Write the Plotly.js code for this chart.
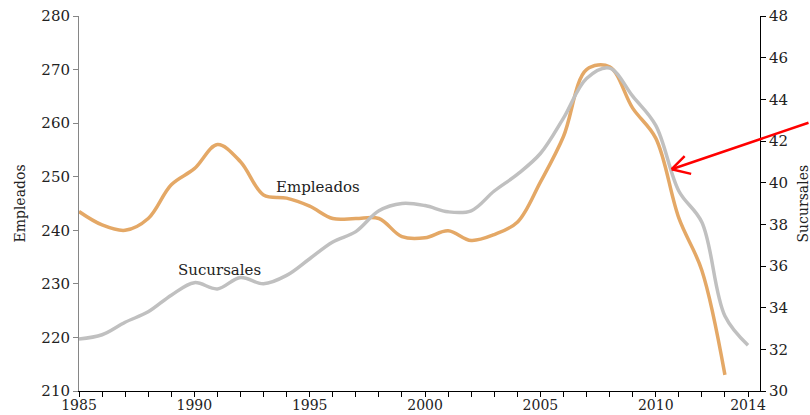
<!DOCTYPE html>
<html>
<head>
<meta charset="utf-8">
<script src="https://cdn.plot.ly/plotly-3.0.1.min.js"></script>
<style>html,body{margin:0;padding:0;background:#fff;}#chart{width:810px;height:415px;}</style>
</head>
<body>
<div id="chart"></div>
<script>
const yearsEmp = [1985,1986,1987,1988,1989,1990,1991,1992,1993,1994,1995,1996,1997,1998,1999,2000,2001,2002,2003,2004,2005,2006,2007,2008,2009,2010,2011,2012,2013];
const empleados = [243.5,241,240,242.2,248.5,251.5,256,252.8,246.6,246,244.5,242.2,242.2,242.2,238.8,238.6,239.9,238.1,239.2,241.5,249,257.5,270,270.5,262.8,257.2,242.3,232.5,213];
const yearsSuc = [1985,1986,1987,1988,1989,1990,1991,1992,1993,1994,1995,1996,1997,1998,1999,2000,2001,2002,2003,2004,2005,2006,2007,2008,2009,2010,2011,2012,2013,2014];
const sucursales = [32.5,32.7,33.3,33.8,34.6,35.2,34.9,35.45,35.15,35.55,36.35,37.15,37.65,38.65,39.0,38.9,38.6,38.65,39.6,40.4,41.4,43.1,45.0,45.5,44.15,42.75,39.6,38.1,33.6,32.2];
const xTickVals = yearsSuc;
const xTickText = yearsSuc.map(y => [1985,1990,1995,2000,2005,2010,2014].includes(y) ? String(y) : '');
const leftTicks = [210,220,230,240,250,260,270,280];
const rightTicks = [30,32,34,36,38,40,42,44,46,48];

const FONT = 'DejaVu Serif, serif';
const traces = [
  {x: yearsSuc, y: sucursales, yaxis: 'y2', type: 'scatter', mode: 'lines',
   line: {color: '#C0C0C0', width: 3.5, shape: 'spline', smoothing: 1}, hoverinfo: 'skip'},
  {x: yearsEmp, y: empleados, yaxis: 'y', type: 'scatter', mode: 'lines',
   line: {color: '#E4A866', width: 3.5, shape: 'spline', smoothing: 1}, hoverinfo: 'skip'}
];
const arrowCommon = {x: 2010.69, y: 251.4, xref: 'x', yref: 'y', text: '', showarrow: true,
  arrowhead: 0, arrowwidth: 2.5, arrowcolor: '#FF0000', standoff: 0, startstandoff: 0};
const layout = {
  width: 810, height: 415,
  margin: {l: 79, r: 50, t: 16, b: 24, pad: 0},
  paper_bgcolor: '#fff', plot_bgcolor: '#fff',
  showlegend: false,
  font: {family: FONT, size: 15, color: '#222'},
  xaxis: {range: [1985, 2014.52], tickvals: xTickVals, ticktext: xTickText, ticks: 'outside',
    ticklen: 5, tickcolor: '#000', showline: true, linecolor: '#000', linewidth: 1,
    showgrid: false, zeroline: false, ticklabelstandoff: -4,
    tickfont: {family: FONT, size: 14, color: '#222'}},
  yaxis: {range: [210, 280], tickvals: leftTicks, ticks: 'outside', ticklen: 5, tickcolor: '#868686',
    showline: true, linecolor: '#868686', linewidth: 1, showgrid: false, zeroline: false,
    tickfont: {family: FONT, size: 15, color: '#222'},
    title: {text: 'Empleados', font: {family: FONT, size: 14, color: '#222'}, standoff: 12}},
  yaxis2: {range: [30, 48], tickvals: rightTicks, overlaying: 'y', side: 'right', ticks: 'outside',
    ticklen: 5, tickcolor: '#000', showline: true, linecolor: '#000', linewidth: 1,
    showgrid: false, zeroline: false, tickfont: {family: FONT, size: 15, color: '#222'}},
  annotations: [
    {x: 1995.36, y: 248.1, xref: 'x', yref: 'y', text: 'Empleados', showarrow: false,
     font: {family: FONT, size: 15, color: '#222'}},
    {x: 1991.07, y: 232.6, xref: 'x', yref: 'y', text: 'Sucursales', showarrow: false,
     font: {family: FONT, size: 15, color: '#222'}},
    {xref: 'paper', yref: 'paper', x: 1, y: 0.5, xanchor: 'left', yanchor: 'middle', xshift: 32,
     text: 'Sucursales', textangle: -90, showarrow: false, font: {family: FONT, size: 14, color: '#222'}},
    Object.assign({}, arrowCommon, {ax: 140, ay: -47}),
    Object.assign({}, arrowCommon, {ax: 21, ay: 5}),
    Object.assign({}, arrowCommon, {ax: 14.5, ay: -14.5})
  ]
};
Plotly.newPlot('chart', traces, layout, {staticPlot: true, displayModeBar: false});
</script>
</body>
</html>
